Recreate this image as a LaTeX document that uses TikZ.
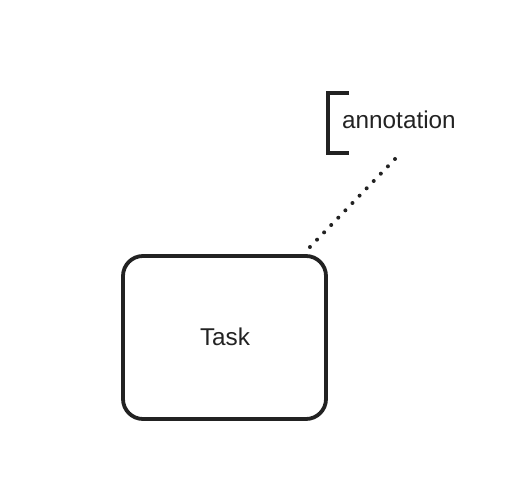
\documentclass[tikz,border=0pt]{standalone}
\usepackage{fontspec}
\setmainfont{Liberation Sans}
\definecolor{ink}{HTML}{222222}
\begin{document}
\begin{tikzpicture}[x=1pt,y=-1pt,
  taskbox/.style={draw=ink,line width=3.8pt,rounded corners=20pt},
  lbl/.style={inner sep=0pt,text=ink,font=\fontsize{24.3}{29}\selectfont},
  assoc/.style={draw=ink,line width=4pt,line cap=round,dash pattern=on 0pt off 10.2pt},
  bracket/.style={draw=ink,line width=3.8pt}]
\useasboundingbox (0,0) rectangle (512,481);
\node[taskbox,minimum width=203pt,minimum height=163pt] (task) at (224.5,337.5) {};
\node[lbl,anchor=base] (tasklbl) at (225,346) {Task};
\node[lbl,anchor=base west] (ann) at (342,129) {annotation};
\coordinate (bt) at (349,93);
\coordinate (bb) at (349,153);
\draw[bracket] (bt) -- (328,93) -- (328,153) -- (bb);
\coordinate (d1) at (395,159);
\coordinate (d2) at (309,248);
\draw[assoc] (d1) -- (d2);
\end{tikzpicture}
\end{document}
